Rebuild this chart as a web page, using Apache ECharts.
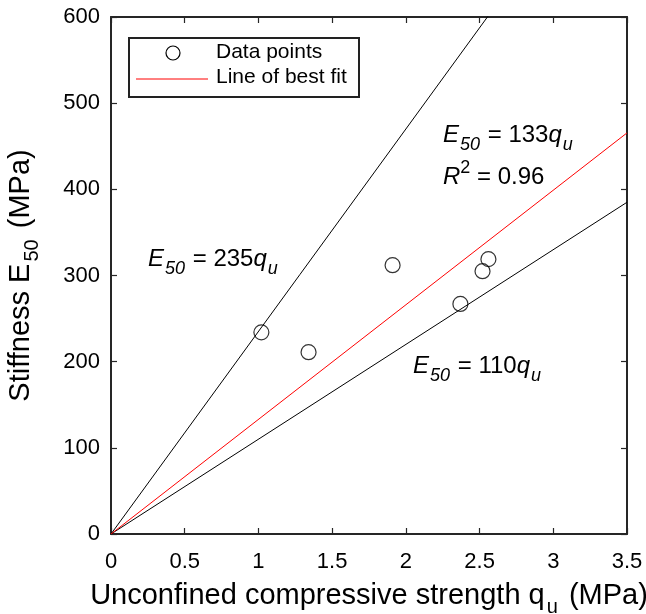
<!DOCTYPE html>
<html>
<head>
<meta charset="utf-8">
<script src="https://cdn.jsdelivr.net/npm/echarts@6/dist/echarts.min.js"></script>
<style>html,body{margin:0;padding:0;background:#fff}#c{width:646px;height:614px}</style>
</head>
<body>
<div id="c"></div>
<script>
// Data points
const qu = [1.02, 1.34, 1.91, 2.37, 2.52, 2.56];
const E50 = [234, 211, 312, 267, 305, 319];
// Reference lines E50 = k * qu
const slopes = { upper: 235, fit: 133, lower: 110 };
const xRange = [0, 3.5];
const legendNames = ['Data points', 'Line of best fit'];

function lineData(k) { return xRange.map(x => [x, k * x]); }

const FONT = 'Liberation Sans';
const AX = '#262626';
const chart = echarts.init(document.getElementById('c'), null, { renderer: 'canvas' });

const tickStyle = { show: true, inside: true, length: 6, lineStyle: { color: AX, width: 1.2 } };
const lineStyleAx = { show: true, onZero: false, lineStyle: { color: AX, width: 2 } };
const titleRich = {
  n: { fontSize: 29, fontFamily: FONT, lineHeight: 30, verticalAlign: 'top', color: '#000' },
  s: { fontSize: 20, fontFamily: FONT, lineHeight: 20, verticalAlign: 'top', padding: [16, 3, 0, 2], color: '#000' }
};

const mainX = { type: 'value', min: 0, max: 3.5, interval: 0.5,
  axisLine: lineStyleAx, axisTick: tickStyle,
  axisLabel: { show: true, color: '#000', fontSize: 22, fontFamily: FONT, margin: 17, formatter: v => String(v) },
  splitLine: { show: false },
  name: '{n|Unconfined compressive strength q}{s|u}{n| (MPa)}',
  nameLocation: 'middle', nameGap: 47,
  nameTextStyle: { fontFamily: FONT, color: '#000', rich: titleRich }
};
const topX = { type: 'value', min: 0, max: 3.5, interval: 0.5, position: 'top',
  axisLine: lineStyleAx, axisTick: tickStyle, axisLabel: { show: false }, splitLine: { show: false } };
const mainY = { type: 'value', min: 0, max: 600, interval: 100,
  axisLine: lineStyleAx, axisTick: tickStyle,
  axisLabel: { show: true, color: '#000', fontSize: 22, fontFamily: FONT, margin: 11 },
  splitLine: { show: false },
  name: '{n|Stiffness E}{s|50}{n| (MPa)}',
  nameLocation: 'middle', nameGap: 75, nameRotate: 90,
  nameTextStyle: { fontFamily: FONT, color: '#000', rich: titleRich }
};
const rightY = { type: 'value', min: 0, max: 600, interval: 100, position: 'right',
  axisLine: lineStyleAx, axisTick: tickStyle, axisLabel: { show: false }, splitLine: { show: false } };

const richAnn = {
  e: { fontSize: 24, fontFamily: FONT, fontStyle: 'italic', lineHeight: 26, verticalAlign: 'top', fill: '#000' },
  n: { fontSize: 24, fontFamily: FONT, lineHeight: 26, verticalAlign: 'top', fill: '#000' },
  s: { fontSize: 18, fontFamily: FONT, fontStyle: 'italic', lineHeight: 18, verticalAlign: 'top', padding: [13, 1, 0, 1], fill: '#000' }
};
const richR = {
  e: { fontSize: 24, fontFamily: FONT, fontStyle: 'italic', lineHeight: 26, verticalAlign: 'top', padding: [6, 0, 0, 0], fill: '#000' },
  n: { fontSize: 24, fontFamily: FONT, lineHeight: 26, verticalAlign: 'top', padding: [6, 0, 0, 0], fill: '#000' },
  p: { fontSize: 18, fontFamily: FONT, lineHeight: 18, verticalAlign: 'top', fill: '#000' }
};
function ann(x, y, text, rich) {
  return { type: 'text', left: x, top: y, z: 100, style: { text, rich, fill: '#000', font: '24px ' + FONT } };
}

chart.setOption({
  animation: false,
  backgroundColor: '#fff',
  grid: { left: 111, right: 19, top: 17, bottom: 80, containLabel: false, outerBoundsMode: 'none' },
  xAxis: [mainX, topX],
  yAxis: [mainY, rightY],
  series: [
    { name: 'upper', type: 'line', data: lineData(slopes.upper), symbol: 'none', clip: true,
      lineStyle: { color: '#000', width: 1 }, silent: true },
    { name: 'lower', type: 'line', data: lineData(slopes.lower), symbol: 'none', clip: true,
      lineStyle: { color: '#000', width: 1 }, silent: true },
    { name: legendNames[1], type: 'line', data: lineData(slopes.fit), symbol: 'none', clip: true,
      lineStyle: { color: '#ff0000', width: 1 } },
    { name: legendNames[0], type: 'scatter', data: qu.map((x, i) => [x, E50[i]]),
      symbol: 'circle', symbolSize: 15,
      itemStyle: { color: 'rgba(0,0,0,0)', borderColor: '#000', borderWidth: 1.2 } }
  ],
  graphic: [
    // legend box
    { type: 'rect', left: 128, top: 37, z: 90, shape: { width: 230, height: 59 },
      style: { fill: '#fff', stroke: '#222', lineWidth: 2 } },
    { type: 'circle', z: 91, shape: { cx: 173, cy: 53, r: 7 }, style: { fill: 'none', stroke: '#000', lineWidth: 1.2 } },
    { type: 'line', z: 91, shape: { x1: 136, y1: 79, x2: 208, y2: 79 }, style: { stroke: '#ff0000', lineWidth: 1 } },
    { type: 'text', left: 216, top: 42, z: 91, style: { text: legendNames[0], fill: '#000', font: '21px ' + FONT } },
    { type: 'text', left: 216, top: 67, z: 91, style: { text: legendNames[1], fill: '#000', font: '21px ' + FONT } },
    // annotations
    ann(148, 247, '{e|E}{s|50}{n| = 235}{e|q}{s|u}', richAnn),
    ann(443, 123, '{e|E}{s|50}{n| = 133}{e|q}{s|u}', richAnn),
    ann(443, 159, '{e|R}{p|2}{n| = 0.96}', richR),
    ann(413, 354, '{e|E}{s|50}{n| = 110}{e|q}{s|u}', richAnn)
  ]
});
</script>
</body>
</html>
